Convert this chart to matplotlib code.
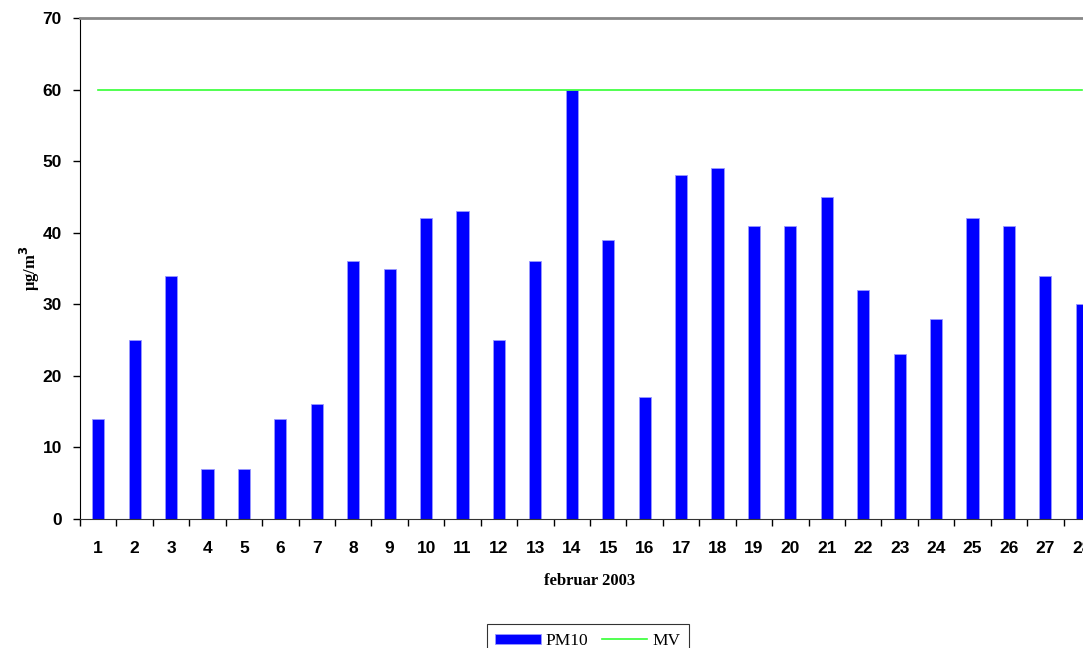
import matplotlib.pyplot as plt
import numpy as np

days = [str(d) for d in range(1, 29)]
pm10 = [14, 25, 34, 7, 7, 14, 16, 36, 35, 42, 43, 25, 36, 60,
        39, 17, 48, 49, 41, 41, 45, 32, 23, 28, 42, 41, 34, 30]
mv = 60
yticks = [0, 10, 20, 30, 40, 50, 60, 70]

W, H = 1083, 648
fig = plt.figure(figsize=(W / 100, H / 100), dpi=100)
ax = fig.add_axes([80 / W, (H - 519) / H, (1100 - 80) / W, (519 - 18) / H])

x = np.arange(len(days))
bars = ax.bar(x, pm10, width=0.33, color='#0000FF', edgecolor='#9999FF',
              linewidth=0.6, label='PM10', zorder=2)
line, = ax.plot([x[0], x[-1]], [mv, mv], color='#33FF33', linewidth=1.2,
                label='MV', zorder=3)

ax.set_xlim(-0.5, len(days) - 0.5)
ax.set_ylim(0, 70)
ax.set_yticks(yticks)
ax.set_yticklabels([str(v) for v in yticks], fontfamily='Liberation Sans',
                   fontweight='bold', fontsize=12.5)
ax.set_xticks(x)
ax.set_xticklabels(days, fontfamily='Liberation Sans', fontweight='bold',
                   fontsize=12.5)
ax.set_xticks(np.arange(len(days) + 1) - 0.5, minor=True)
ax.tick_params(axis='x', which='major', length=0, pad=16)
ax.tick_params(axis='x', which='minor', length=5, direction='out',
               color='black', width=1)
ax.tick_params(axis='y', length=5, direction='out', width=1, pad=8)

ax.spines['top'].set_color('#888888')
ax.spines['top'].set_linewidth(2)
ax.spines['right'].set_visible(False)
ax.spines['left'].set_color('black')
ax.spines['bottom'].set_color('#333333')

ax.set_xlabel('februar 2003', fontfamily='Liberation Serif',
              fontweight='bold', fontsize=12, labelpad=12)
fig.text(30 / W, 1 - 268 / H, 'µg/m$^\\mathbf{3}$', rotation=90,
         ha='center', va='center', fontfamily='Liberation Serif',
         fontweight='bold', fontsize=12)

leg = fig.legend([bars, line], ['PM10', 'MV'], loc='lower center',
                 bbox_to_anchor=(588 / W, -0.028),
                 ncol=2, frameon=True, fancybox=False, edgecolor='black',
                 prop={'family': 'Liberation Serif', 'size': 12.5},
                 handlelength=2.6, handleheight=0.5, columnspacing=0.8,
                 handletextpad=0.3, borderpad=0.5)
leg.get_frame().set_linewidth(0.8)

fig.savefig('out.png', dpi=100)
